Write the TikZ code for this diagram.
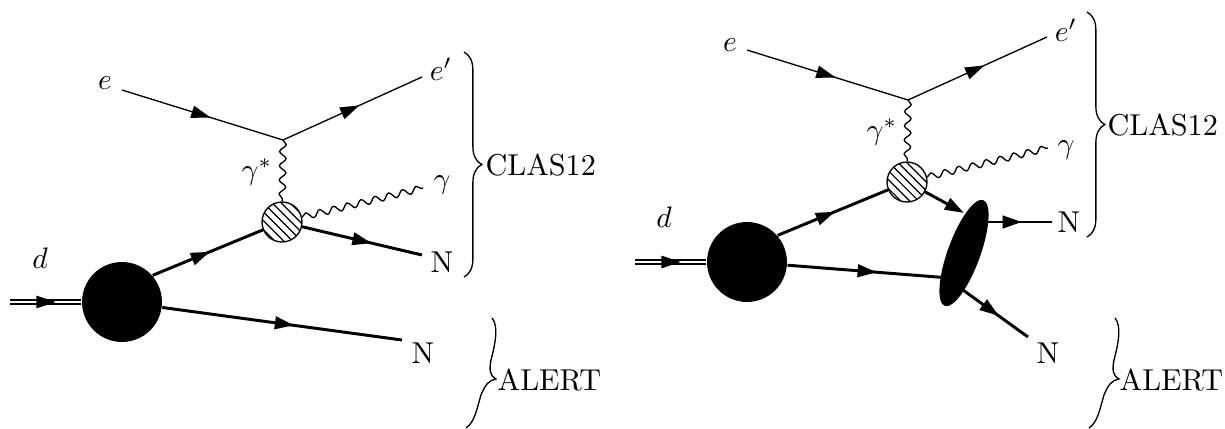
\documentclass[tikz,border=0pt]{standalone}
\usetikzlibrary{positioning,arrows.meta,decorations.markings,decorations.pathmorphing,decorations.pathreplacing,patterns,shapes.geometric}

\tikzset{
  fermion/.style={postaction={decorate},
    decoration={markings,mark=at position #1 with {\arrow{Triangle[length=6.5pt,width=4.2pt]}}}},
  fermion/.default=0.55,
  photon/.style={decorate,decoration={snake,segment length=4.8pt,amplitude=1.1pt}},
  deut/.style={double,double distance=0.9pt,line width=0.45pt},
  nuc/.style={circle,fill,inner sep=0pt,minimum size=27pt},
  blob/.style={circle,draw,inner sep=0pt,minimum size=13.5pt,pattern=north west lines},
  corr/.style={ellipse,fill,inner sep=0pt,minimum width=11pt,minimum height=38pt,rotate=-20},
  bracket/.style={decorate,decoration={brace,amplitude=6pt}},
  lab/.style={inner sep=1pt}
}

\begin{document}
\begin{tikzpicture}[x=0.3378pt,y=-0.3378pt,font=\fontsize{10.2}{12.5}\selectfont,line width=0.45pt]
\useasboundingbox (0,0) rectangle (1225,428);
% ===== left: quasi-free knockout =====
\node[nuc] (nucL) at (122,302) {};
\node[blob] (blobL) at (282,222) {};
\coordinate (vtxL) at (283,140);
\coordinate (eInL) at (122,90);
\coordinate (eOutL) at (422,77);
\coordinate (gOutL) at (423,188);
\coordinate (NupL) at (422,255);
\coordinate (NloL) at (402,340);
\coordinate (dInL) at (10,302);
\draw[fermion] (eInL) -- (vtxL);
\draw[fermion] (vtxL) -- (eOutL);
\draw[photon] (vtxL) -- (blobL);
\draw[photon] (blobL) -- (gOutL);
\draw[line width=1pt,fermion=0.58] (blobL) -- (NupL);
\draw[line width=1pt,fermion=0.52] (nucL.41) -- (blobL);
\draw[line width=1pt,fermion=0.55] (nucL) -- (NloL);
\draw[deut] (dInL) -- (nucL);
\path[fermion=0.64] (dInL) -- (nucL);
\node[lab] (eL) at (105,83) {$e$};
\node[lab] (epL) at (441,69) {$e'$};
\node[lab] (gsL) at (257,172) {$\gamma^*$};
\node[lab] (gL) at (442,185) {$\gamma$};
\node[lab] (N1L) at (442,262) {N};
\node[lab] (N2L) at (423,353) {N};
\node[lab] (dL) at (40,258) {$d$};
% detector braces
\draw[bracket] (464,52) -- (464,277);
\node[lab,anchor=west] (clasL) at (482,165) {CLAS12};
\draw (492,318) .. controls (499,326) and (495,345) .. (491,360)
  .. controls (489,370) and (490,376) .. (496,379)
  .. controls (489,380) and (485,385) .. (481,395)
  .. controls (477,408) and (475,422) .. (466,428);
\node[lab,anchor=west] (alertL) at (494,380) {ALERT};
% ===== right: final-state interaction =====
\node[nuc] (nucR) at (747,262) {};
\node[blob] (blobR) at (907,182) {};
\node[corr] (fsiR) at (964,253) {};
\coordinate (vtxR) at (908,100);
\coordinate (eInR) at (747,50);
\coordinate (eOutR) at (1047,37);
\coordinate (gOutR) at (1048,148);
\coordinate (fsiInU) at (964,213);
\coordinate (fsiInL) at (950,278);
\coordinate (fsiOutU) at (985,222);
\coordinate (fsiOutL) at (963,290);
\coordinate (NupR) at (1052,222);
\coordinate (NloR) at (1028,337);
\coordinate (dInR) at (635,262);
\draw[fermion] (eInR) -- (vtxR);
\draw[fermion] (vtxR) -- (eOutR);
\draw[photon] (vtxR) -- (blobR);
\draw[photon] (blobR) -- (gOutR);
\draw[line width=1pt,-{Triangle[length=6.5pt,width=4.2pt]}] (blobR) -- (fsiInU);
\draw[line width=1pt,fermion=0.52] (nucR.41) -- (blobR);
\draw[line width=1pt,fermion=0.55] (nucR) -- (fsiInL);
\draw[line width=1pt,fermion=0.55] (fsiOutU) -- (NupR);
\draw[line width=1pt,fermion=0.55] (fsiOutL) -- (NloR);
\draw[deut] (dInR) -- (nucR);
\path[fermion=0.64] (dInR) -- (nucR);
\node[lab] (eR) at (730,45) {$e$};
\node[lab] (epR) at (1066,30) {$e'$};
\node[lab] (gsR) at (882,132) {$\gamma^*$};
\node[lab] (gR) at (1066,150) {$\gamma$};
\node[lab] (N1R) at (1069,222) {N};
\node[lab] (N2R) at (1048,353) {N};
\node[lab] (dR) at (664,217) {$d$};
% detector braces
\draw[bracket] (1087,12) -- (1087,237);
\node[lab,anchor=west] (clasR) at (1104,125) {CLAS12};
\draw (1115,318) .. controls (1122,326) and (1118,345) .. (1114,360)
  .. controls (1112,370) and (1113,376) .. (1119,379)
  .. controls (1112,380) and (1108,385) .. (1104,395)
  .. controls (1100,408) and (1098,422) .. (1089,428);
\node[lab,anchor=west] (alertR) at (1116,380) {ALERT};
\end{tikzpicture}
\end{document}
